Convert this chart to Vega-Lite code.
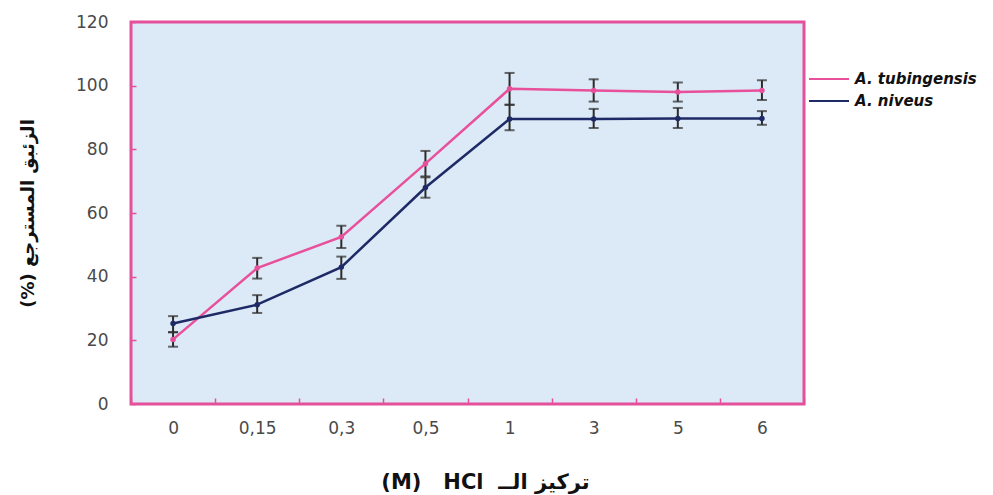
{
  "$schema": "https://vega.github.io/schema/vega-lite/v6.json",
  "autosize": "none",
  "width": 673,
  "height": 382,
  "padding": {"left": 131, "top": 22, "right": 189, "bottom": 91},
  "background": "white",
  "config": {
    "font": "DejaVu Sans",
    "view": {"fill": "#dce9f6", "stroke": "#e4509b", "strokeWidth": 3}
  },
  "data": {
    "values": [
      {"c": "0", "s": "A. tubingensis", "v": 20.3, "lo": 18, "hi": 22.5},
      {"c": "0,15", "s": "A. tubingensis", "v": 42.7, "lo": 39.4, "hi": 45.9},
      {"c": "0,3", "s": "A. tubingensis", "v": 52.5, "lo": 49, "hi": 56},
      {"c": "0,5", "s": "A. tubingensis", "v": 75.5, "lo": 71.5, "hi": 79.5},
      {"c": "1", "s": "A. tubingensis", "v": 99, "lo": 94, "hi": 104},
      {"c": "3", "s": "A. tubingensis", "v": 98.5, "lo": 95, "hi": 102},
      {"c": "5", "s": "A. tubingensis", "v": 98, "lo": 95, "hi": 101},
      {"c": "6", "s": "A. tubingensis", "v": 98.5, "lo": 95.5, "hi": 101.7},
      {"c": "0", "s": "A. niveus", "v": 25.3, "lo": 22.6, "hi": 27.6},
      {"c": "0,15", "s": "A. niveus", "v": 31.2, "lo": 28.6, "hi": 34.2},
      {"c": "0,3", "s": "A. niveus", "v": 43, "lo": 39.3, "hi": 46.3},
      {"c": "0,5", "s": "A. niveus", "v": 68, "lo": 64.8, "hi": 71.2},
      {"c": "1", "s": "A. niveus", "v": 89.5, "lo": 86, "hi": 94},
      {"c": "3", "s": "A. niveus", "v": 89.5, "lo": 86.7, "hi": 92.7},
      {"c": "5", "s": "A. niveus", "v": 89.7, "lo": 86.7, "hi": 93},
      {"c": "6", "s": "A. niveus", "v": 89.7, "lo": 87.7, "hi": 92}
    ]
  },
  "encoding": {
    "x": {
      "field": "c",
      "type": "ordinal",
      "sort": ["0", "0,15", "0,3", "0,5", "1", "3", "5", "6"],
      "scale": {"type": "band", "paddingInner": 0, "paddingOuter": 0},
      "axis": {
        "title": "(M)\u00a0\u00a0\u00a0HCl\u00a0\u00a0تركيز الــ",
        "titleFont": "DejaVu Sans",
        "titleFontSize": 21,
        "titleFontWeight": "bold",
        "titleColor": "#111",
        "titleX": 354,
        "titleY": 78,
        "titleBaseline": "middle",
        "labelAngle": 0,
        "labelFontSize": 17,
        "labelColor": "#4a4a4a",
        "labelPadding": 22,
        "domain": false,
        "tickBand": "extent",
        "tickSize": -6,
        "tickColor": "#e4509b",
        "tickWidth": 1.5,
        "grid": false
      }
    }
  },
  "layer": [
    {
      "mark": {"type": "rule", "color": "#2b2b2b", "strokeWidth": 2},
      "encoding": {
        "y": {"field": "lo", "type": "quantitative"},
        "y2": {"field": "hi"}
      }
    },
    {
      "mark": {"type": "tick", "color": "#2b2b2b", "thickness": 2, "size": 10},
      "encoding": {"y": {"field": "lo", "type": "quantitative"}}
    },
    {
      "mark": {"type": "tick", "color": "#2b2b2b", "thickness": 2, "size": 10},
      "encoding": {"y": {"field": "hi", "type": "quantitative"}}
    },
    {
      "mark": {"type": "line", "strokeWidth": 2.5, "point": {"filled": true, "size": 30}},
      "encoding": {
        "y": {
          "field": "v",
          "type": "quantitative",
          "scale": {"domain": [0, 120]},
          "axis": {
            "values": [0, 20, 40, 60, 80, 100, 120],
            "title": "(%) الزئبق المسترجع",
            "titleFont": "DejaVu Sans",
            "titleFontSize": 18,
            "titleFontWeight": "bold",
            "titleColor": "#111",
            "titleX": -103,
            "titleY": 191,
            "titleAlign": "center",
            "titleBaseline": "middle",
            "labelFontSize": 17,
            "labelColor": "#4a4a4a",
            "labelPadding": 28,
            "domain": false,
            "tickSize": -5,
            "tickColor": "#e4509b",
            "tickWidth": 1.5,
            "grid": false
          }
        },
        "color": {
          "field": "s",
          "type": "nominal",
          "scale": {"domain": ["A. tubingensis", "A. niveus"], "range": ["#e8509b", "#1e2a66"]},
          "legend": {
            "title": null,
            "orient": "none",
            "legendX": 687,
            "legendY": 46,
            "symbolType": "M-2,0H2",
            "symbolStrokeWidth": 2,
            "symbolSize": 400,
            "labelOffset": 15,
            "labelFont": "DejaVu Sans",
            "labelFontSize": 15,
            "labelFontStyle": "italic",
            "labelFontWeight": "bold",
            "labelColor": "#111",
            "rowPadding": 3
          }
        }
      }
    }
  ]
}
